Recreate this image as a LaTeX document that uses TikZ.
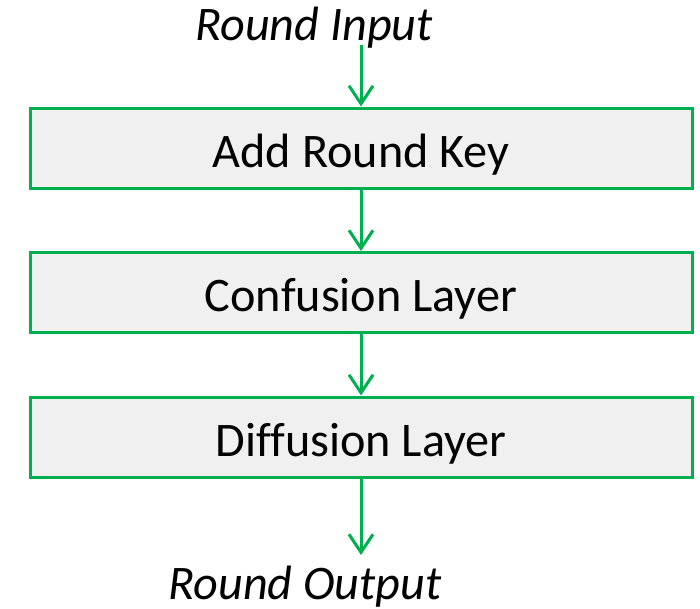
\documentclass[tikz,border=0pt]{standalone}
\usepackage{fontspec}
\setmainfont[Ligatures=NoCommon]{Carlito}
\usetikzlibrary{arrows.meta}
\definecolor{linegreen}{RGB}{0,176,80}
\definecolor{boxfill}{RGB}{240,240,240}
\tikzset{
  layerbox/.style={draw=linegreen, line width=3pt, fill=boxfill,
    minimum width=662pt, minimum height=80pt, inner sep=0pt,
    text height=38pt, text depth=0pt,
    font=\fontsize{48.2}{58}\selectfont},
  flowarrow/.style={draw=linegreen, line width=3pt,
    -{Straight Barb[length=18pt,width=24pt,line width=3pt]}},
  ioLabel/.style={anchor=base, inner sep=0pt,
    font=\fontsize{48.2}{58}\selectfont\itshape}
}
\begin{document}
\begin{tikzpicture}[x=1pt,y=-1pt]
  \useasboundingbox (0,0) rectangle (700,608);
  \node[ioLabel] (in) at (314,40) {Round Input};
  \coordinate (inTail) at (361,45);
  \node[layerbox] (ark) at (361,148) {Add Round Key};
  \node[layerbox] (conf) at (361,292.5) {Confusion Layer};
  \node[layerbox] (diff) at (361,437) {Diffusion Layer};
  \coordinate (outHead) at (361,555);
  \node[ioLabel] (out) at (305,599) {Round Output};
  \draw[flowarrow] (inTail) -- (ark.north);
  \draw[flowarrow] (ark.south) -- (conf.north);
  \draw[flowarrow] (conf.south) -- (diff.north);
  \draw[flowarrow] (diff.south) -- (outHead);
\end{tikzpicture}
\end{document}
